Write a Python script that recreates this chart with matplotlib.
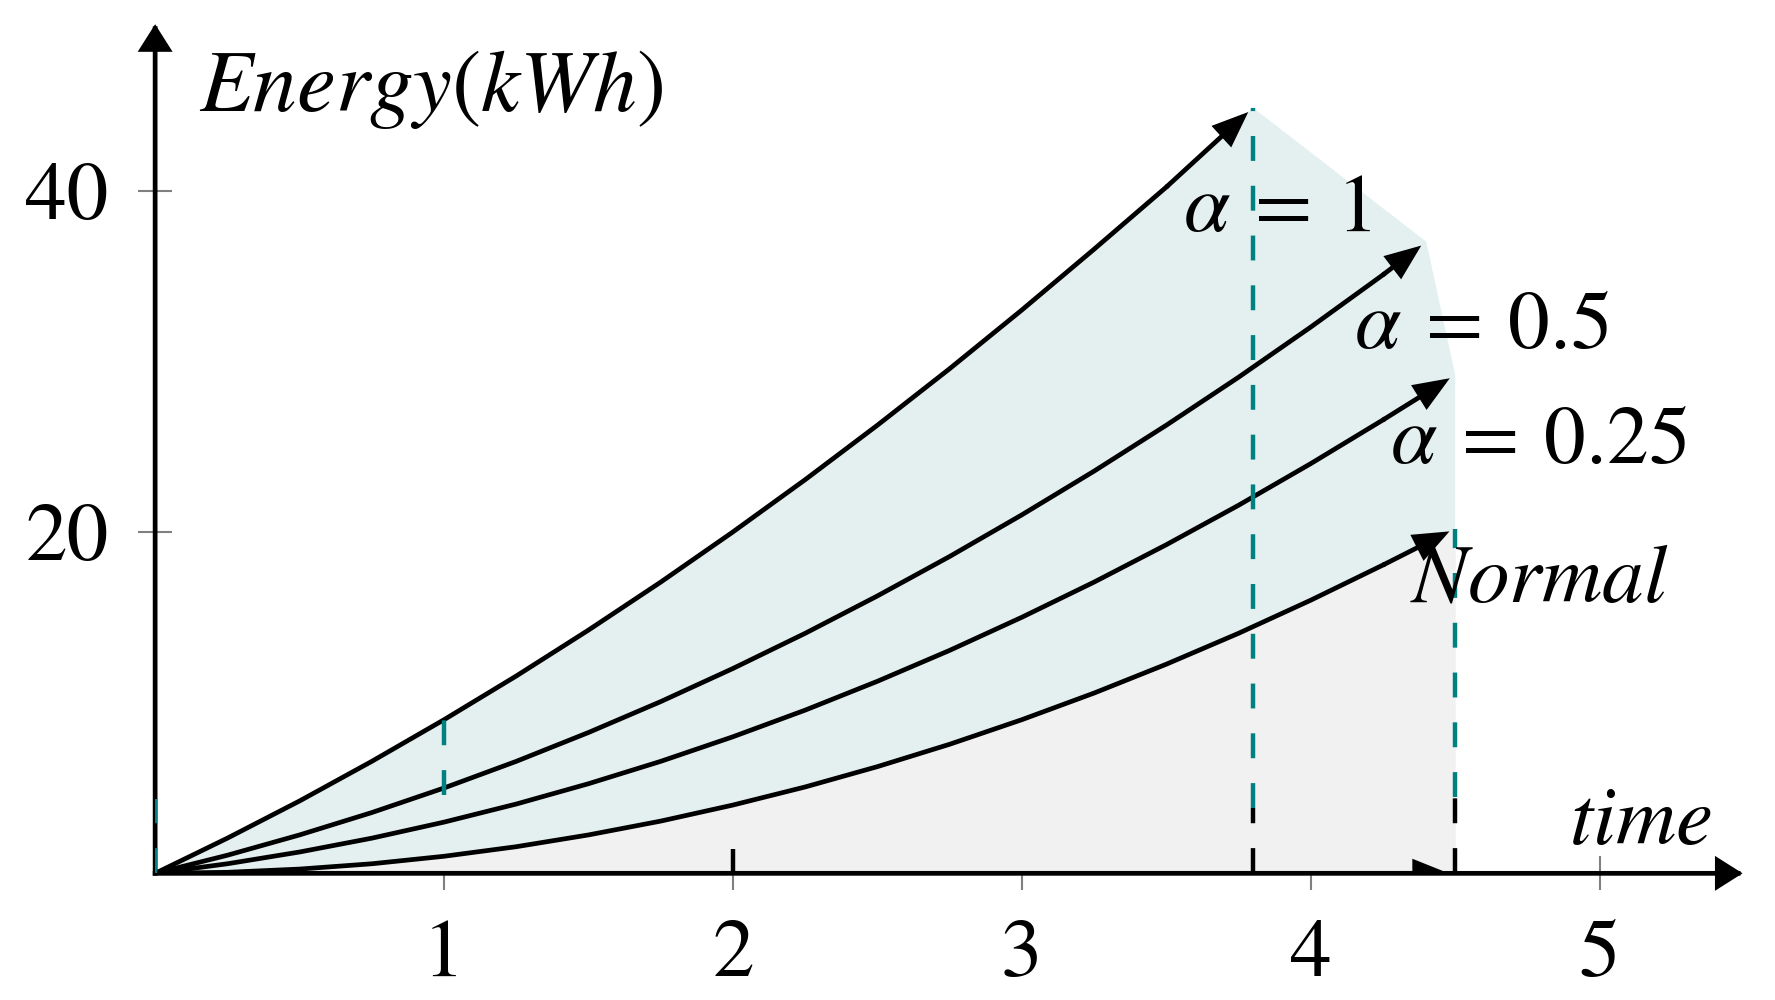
import math

import matplotlib
matplotlib.use('Agg')
import matplotlib.pyplot as plt
from matplotlib.patches import FancyArrowPatch, Rectangle

# ============================================================================
# DATA
# ============================================================================
time_a1 = [0, 0.25, 0.5, 0.75, 1, 1.25, 1.5, 1.75, 2, 2.25, 2.5, 2.75,
           3, 3.25, 3.5, 3.8]
energy_a1 = [0, 2.06, 4.24, 6.56, 9.0, 11.56, 14.25, 17.06, 20.0, 23.06,
             26.25, 29.56, 33.0, 36.56, 40.2, 44.85]

time_a05 = [0, 0.25, 0.5, 0.75, 1, 1.25, 1.5, 1.75, 2, 2.25, 2.5, 2.75,
            3, 3.25, 3.5, 3.75, 4.0, 4.25, 4.4]
energy_a05 = [0, 1.06, 2.25, 3.56, 5.0, 6.56, 8.25, 10.06, 12.0, 14.06,
              16.25, 18.56, 21.0, 23.56, 26.25, 29.06, 32.0, 35.06, 37.0]

time_a025 = [0, 0.25, 0.5, 0.75, 1, 1.25, 1.5, 1.75, 2, 2.25, 2.5, 2.75,
             3, 3.25, 3.5, 3.75, 4.0, 4.25, 4.5]
energy_a025 = [0, 0.56, 1.25, 2.06, 3.0, 4.06, 5.25, 6.56, 8.0, 9.56,
               11.25, 13.06, 15.0, 17.06, 19.25, 21.56, 24.0, 26.56, 29.2]

time_norm = [0, 0.25, 0.5, 0.75, 1, 1.25, 1.5, 1.75, 2, 2.25, 2.5, 2.75,
             3, 3.25, 3.5, 3.75, 4.0, 4.25, 4.5]
energy_norm = [0, 0.06, 0.25, 0.56, 1.0, 1.56, 2.25, 3.06, 4.0, 5.06,
               6.25, 7.56, 9.0, 10.56, 12.25, 14.06, 16.0, 18.06, 20.2]

# arrow lying on the time axis (only half of its head is visible)
base_time = [0, 4.5]
base_energy = [0, 0]

# vertical dashed markers: x, bottom, top
teal_x = [0, 1, 3.8, 4.5]
teal_lo = [0, 4.57, 3.83, 4.45]
teal_hi = [4.35, 8.97, 44.85, 20.2]
black_x = [2, 3.8, 4.5]
black_lo = [0, 0, 0]
black_hi = [1.45, 3.83, 4.4]

x_ticks = [1, 2, 3, 4, 5]
y_ticks = [20, 40]
x_axis_end = 5.51
y_axis_end = 50

curve_labels = [r'$\alpha\:=\:1$', r'$\alpha\:=\:0.5$', r'$\alpha\:=\:0.25$', r'$Normal$']
label_x = [3.884, 4.592, 4.788, 4.79]
label_y = [37.61, 30.77, 24.03, 15.9]

# ============================================================================
# COLORS
# ============================================================================
TEAL = '#008080'
TEAL_FILL = '#e4f0f0'
GRAY_FILL = '#f1f1f1'
TICK_GRAY = '#808080'

plt.rcParams['font.family'] = 'STIXGeneral'
plt.rcParams['mathtext.fontset'] = 'stix'

fig = plt.figure(figsize=(17.75, 10), dpi=100)
ax = fig.add_axes([0, 0, 1, 1])
ax.set_xlim(-0.537, 5.607)
ax.set_ylim(-7.42, 51.16)

for s in ax.spines.values():
    s.set_visible(False)
ax.spines['left'].set_position(('data', 0))
ax.spines['bottom'].set_position(('data', 0))

ax.set_xticks(x_ticks)
ax.set_xticklabels([str(t) for t in x_ticks])
ax.set_yticks(y_ticks)
ax.set_yticklabels([str(t) for t in y_ticks])
ax.tick_params(direction='inout', length=25, width=1.5, color=TICK_GRAY,
               pad=21, labelsize=60, labelcolor='black')

# pgfplots-style clipping to the first quadrant
clip_rect = Rectangle((0, 0), 100, 1000, transform=ax.transData)

LW = 3.4


def arrow(p0, p1, hl, hw, lw=LW, zorder=5, clip=None, cap='butt'):
    # shrink the tip so the mitred outline ends on the data point
    half = math.atan(hw / hl)
    shrink = (lw / 2) / math.sin(half)
    a = FancyArrowPatch(p0, p1, arrowstyle=f'-|>,head_length={hl},head_width={hw}',
                        mutation_scale=10, lw=lw, color='black',
                        shrinkA=0, shrinkB=shrink, joinstyle='miter',
                        capstyle=cap, zorder=zorder, transform=ax.transData)
    ax.add_patch(a)
    if clip is not None:
        a.set_clip_path(clip)
    else:
        a.set_clip_on(False)
    return a


# ============================================================================
# FILLED REGIONS
# ============================================================================
ax.fill_between(time_norm, 0, energy_norm, color=GRAY_FILL, lw=0, zorder=3)

env_x = time_a1 + [time_a05[-1], time_a025[-1]] + time_norm[::-1]
env_y = energy_a1 + [energy_a05[-1], energy_a025[-1]] + energy_norm[::-1]
ax.fill(env_x, env_y, color=TEAL_FILL, lw=0, zorder=3)

# ============================================================================
# CURVES WITH ARROW TIPS
# ============================================================================
for tx, ey in [(time_a1, energy_a1), (time_a05, energy_a05),
               (time_a025, energy_a025), (time_norm, energy_norm)]:
    ln, = ax.plot(tx[:-1], ey[:-1], color='black', lw=LW, zorder=5,
                  solid_joinstyle='round')
    ln.set_clip_path(clip_rect)
    arrow((tx[-2], ey[-2]), (tx[-1], ey[-1]), 2.0, 0.8, clip=clip_rect)

arrow((base_time[0], base_energy[0]), (base_time[1], base_energy[1]),
      2.0, 0.8, zorder=7, clip=clip_rect)

# ============================================================================
# DASHED MARKERS
# ============================================================================
for x, lo, hi in zip(black_x, black_lo, black_hi):
    ln, = ax.plot([x, x], [lo, hi], color='black', lw=3.2, dashes=(5.6, 5.6), zorder=6)
    ln.set_clip_path(clip_rect)

for x, lo, hi in zip(teal_x, teal_lo, teal_hi):
    ln, = ax.plot([x, x], [lo, hi], color=TEAL, lw=3.2, dashes=(5.6, 5.6), zorder=8)
    ln.set_clip_path(clip_rect)

# ============================================================================
# AXES ARROWS
# ============================================================================
arrow((0, 0), (x_axis_end, 0), 1.5, 0.95, lw=3.4, zorder=7, cap='projecting')
arrow((0, 0), (0, y_axis_end), 1.5, 0.95, lw=3.4, zorder=7, cap='projecting')

# ============================================================================
# TEXT
# ============================================================================
ax.text(0.957, 44.65, r'$Energy(kWh)$', fontsize=63, ha='center', va='baseline', zorder=10)
ax.text(5.14, 1.74, r'$time$', fontsize=60, ha='center', va='baseline', zorder=10)
for txt, lx, ly in zip(curve_labels, label_x, label_y):
    ax.text(lx, ly, txt, fontsize=60, ha='center', va='baseline', zorder=10)

fig.savefig('out.png', dpi=100, facecolor='white')
